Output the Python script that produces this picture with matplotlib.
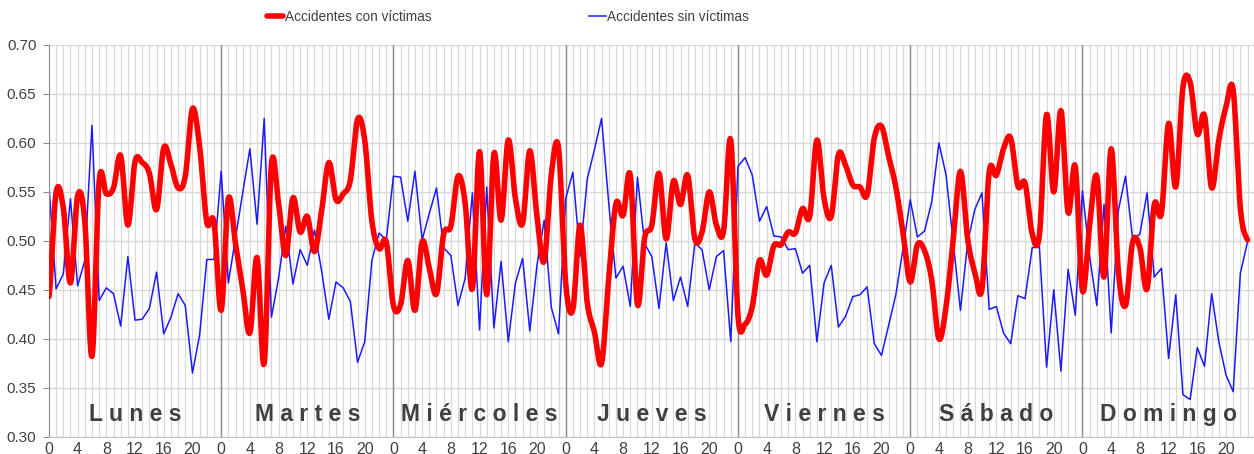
import numpy as np
import matplotlib.pyplot as plt

# share of accidents per hour of the week (Lunes 0h ... Domingo 23h)
dias = ['Lunes', 'Martes', 'Miércoles', 'Jueves', 'Viernes', 'Sábado', 'Domingo']

sin_victimas = [
    # Lunes
    0.557, 0.451, 0.466, 0.543, 0.454, 0.480, 0.618, 0.439, 0.452, 0.446, 0.413, 0.484,
    0.419, 0.420, 0.431, 0.468, 0.405, 0.422, 0.446, 0.434, 0.365, 0.404, 0.481, 0.481,
    # Martes
    0.571, 0.457, 0.503, 0.549, 0.594, 0.517, 0.625, 0.422, 0.462, 0.515, 0.456, 0.491,
    0.475, 0.511, 0.469, 0.420, 0.458, 0.452, 0.438, 0.376, 0.397, 0.480, 0.508, 0.501,
    # Miércoles
    0.566, 0.565, 0.520, 0.571, 0.501, 0.528, 0.554, 0.493, 0.485, 0.434, 0.462, 0.549,
    0.409, 0.555, 0.411, 0.479, 0.397, 0.457, 0.482, 0.408, 0.475, 0.521, 0.432, 0.405,
    # Jueves
    0.543, 0.570, 0.484, 0.563, 0.593, 0.625, 0.538, 0.462, 0.474, 0.433, 0.565, 0.497,
    0.484, 0.431, 0.498, 0.439, 0.463, 0.433, 0.498, 0.491, 0.450, 0.484, 0.490, 0.397,
    # Viernes
    0.576, 0.585, 0.567, 0.520, 0.535, 0.505, 0.504, 0.491, 0.492, 0.467, 0.475, 0.397,
    0.457, 0.475, 0.412, 0.423, 0.443, 0.445, 0.453, 0.395, 0.383, 0.414, 0.445, 0.492,
    # Sábado
    0.542, 0.504, 0.510, 0.540, 0.600, 0.567, 0.498, 0.429, 0.498, 0.532, 0.549, 0.430,
    0.433, 0.406, 0.395, 0.444, 0.441, 0.493, 0.494, 0.371, 0.450, 0.367, 0.471, 0.424,
    # Domingo
    0.551, 0.484, 0.434, 0.537, 0.406, 0.531, 0.566, 0.501, 0.507, 0.549, 0.463, 0.472,
    0.380, 0.445, 0.343, 0.338, 0.391, 0.372, 0.446, 0.397, 0.363, 0.346, 0.467, 0.499,
]

con_victimas = [
    # Lunes
    0.443, 0.549, 0.534, 0.457, 0.546, 0.520, 0.382, 0.561, 0.548, 0.554, 0.587, 0.516,
    0.581, 0.580, 0.569, 0.532, 0.595, 0.578, 0.554, 0.566, 0.635, 0.596, 0.519, 0.519,
    # Martes
    0.429, 0.543, 0.497, 0.451, 0.406, 0.483, 0.375, 0.578, 0.538, 0.485, 0.544, 0.509,
    0.525, 0.489, 0.531, 0.580, 0.542, 0.548, 0.562, 0.624, 0.603, 0.520, 0.492, 0.499,
    # Miércoles
    0.434, 0.435, 0.480, 0.429, 0.499, 0.472, 0.446, 0.507, 0.515, 0.566, 0.538, 0.451,
    0.591, 0.445, 0.589, 0.521, 0.603, 0.543, 0.518, 0.592, 0.525, 0.479, 0.568, 0.595,
    # Jueves
    0.457, 0.430, 0.516, 0.437, 0.407, 0.375, 0.462, 0.538, 0.526, 0.567, 0.435, 0.503,
    0.516, 0.569, 0.502, 0.561, 0.537, 0.567, 0.502, 0.509, 0.550, 0.516, 0.510, 0.603,
    # Viernes
    0.424, 0.415, 0.433, 0.480, 0.465, 0.495, 0.496, 0.509, 0.508, 0.533, 0.525, 0.603,
    0.543, 0.525, 0.588, 0.577, 0.557, 0.555, 0.547, 0.605, 0.617, 0.586, 0.555, 0.508,
    # Sábado
    0.458, 0.496, 0.490, 0.460, 0.400, 0.433, 0.502, 0.571, 0.502, 0.468, 0.451, 0.570,
    0.567, 0.594, 0.605, 0.556, 0.559, 0.507, 0.506, 0.629, 0.550, 0.633, 0.529, 0.576,
    # Domingo
    0.449, 0.516, 0.566, 0.463, 0.594, 0.469, 0.434, 0.499, 0.493, 0.451, 0.537, 0.528,
    0.620, 0.555, 0.657, 0.662, 0.609, 0.628, 0.554, 0.603, 0.637, 0.654, 0.533, 0.501,
]

hora_ticks = list(range(0, 168, 4))
hora_labels = [str(h % 24) for h in hora_ticks]


def suavizar(y, n=12):
    # Excel-style smoothed line (Catmull-Rom Bezier segments)
    y = np.asarray(y, dtype=float)
    p = np.concatenate([[y[0]], y, [y[-1]]])
    t = np.linspace(0, 1, n, endpoint=False)
    xs, ys = [], []
    for i in range(len(y) - 1):
        p0, p1, p2, p3 = p[i], p[i + 1], p[i + 2], p[i + 3]
        b1 = p1 + (p2 - p0) / 6
        b2 = p2 - (p3 - p1) / 6
        yy = (1 - t) ** 3 * p1 + 3 * (1 - t) ** 2 * t * b1 + 3 * (1 - t) * t ** 2 * b2 + t ** 3 * p2
        xs.append(i + t)
        ys.append(yy)
    xs.append([len(y) - 1])
    ys.append([y[-1]])
    return np.concatenate(xs), np.concatenate(ys)


plt.rcParams['font.family'] = ['Liberation Sans', 'DejaVu Sans']

fig = plt.figure(figsize=(12.54, 4.54), dpi=100)
ax = fig.add_axes([0.039, 0.038, 0.961, 0.863])

x = np.arange(len(sin_victimas))
xs, ys = suavizar(con_victimas)

# grid
for h in range(168):
    ax.axvline(h, color='#d9d9d9', lw=0.9, zorder=0)
for v in np.arange(0.30, 0.701, 0.05):
    ax.axhline(v, color='#d9d9d9', lw=1.0, zorder=0)
for d in range(1, 7):
    ax.axvline(24 * d, color='#8c8c8c', lw=1.0, zorder=1)

l1, = ax.plot(xs, ys, color='#ff0000', lw=4.0, solid_capstyle='round', zorder=3,
              label='Accidentes con víctimas')
l2, = ax.plot(x, sin_victimas, color='#1a1aff', lw=1.1, zorder=2,
              label='Accidentes sin víctimas')

for d, nombre in enumerate(dias):
    ax.text(24 * d + 12, 0.3225, ' '.join(nombre), ha='center', va='center',
            fontsize=16.5, fontweight='bold', color='#404040', zorder=4)

ax.set_xlim(0, 167.9)
ax.set_ylim(0.30, 0.70)
ax.set_yticks(np.arange(0.30, 0.701, 0.05))
ax.set_yticklabels([f'{v:.2f}' for v in np.arange(0.30, 0.701, 0.05)])
ax.set_xticks(hora_ticks)
ax.set_xticklabels(hora_labels)

ax.tick_params(axis='y', length=4, color='#8c8c8c', labelsize=11, labelcolor='#404040', pad=5)
ax.tick_params(axis='x', length=0, labelsize=11.5, labelcolor='#404040', pad=4)
for s in ['top', 'right']:
    ax.spines[s].set_visible(False)
ax.spines['left'].set_color('#8c8c8c')
ax.spines['bottom'].set_color('#bfbfbf')

leg = fig.legend(handles=[l1, l2], loc='center', bbox_to_anchor=(0.405, 0.962), ncol=2,
                 frameon=False, handlelength=1.2, handletextpad=0.1, columnspacing=11.6,
                 prop={'size': 9.8}, labelcolor='#404040')

fig.savefig('out.png', dpi=100)
